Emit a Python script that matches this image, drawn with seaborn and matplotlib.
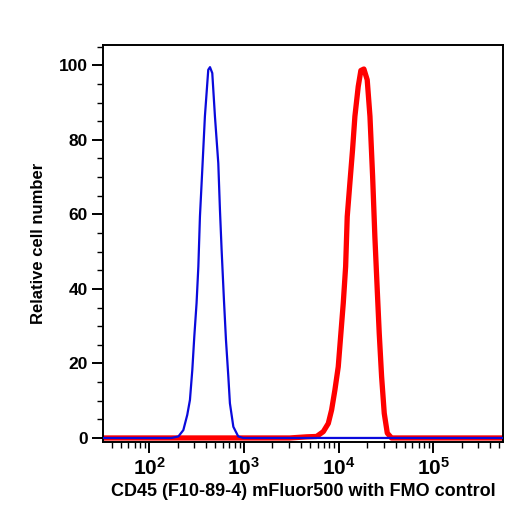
import numpy as np
import matplotlib
matplotlib.use("Agg")
import matplotlib.pyplot as plt
import matplotlib.ticker as mticker
import seaborn as sns

# FMO control (blue) histogram, intensity vs relative count
fmo_x = [30, 172, 203, 229, 252, 269, 285, 299, 316, 330, 343, 363, 387, 420, 438,
         463, 494, 536, 558, 581, 615, 646, 684, 711, 773, 871, 984, 550000]
fmo_y = [0, 0, 0.4, 2.1, 6.2, 10.2, 18.3, 27.2, 36.2, 46.0, 59.4, 71.9, 86.3, 98.8, 99.5,
         97.9, 86.3, 73.7, 61.2, 50.5, 37.0, 26.3, 16.5, 9.3, 3.0, 0.4, 0, 0]

# CD45 mFluor500 stained (red) histogram
cd45_x = [30, 3060, 4590, 5850, 6890, 7780, 8430, 9140, 9910, 10500, 11200, 11860, 12330,
          13150, 14030, 14860, 16110, 17180, 18490, 20040, 21430, 22860, 24150, 25590,
          26850, 28440, 30340, 32660, 36220, 550000]
cd45_y = [0, 0, 0.3, 0.4, 1.7, 3.9, 7.5, 12.9, 19.1, 27.2, 36.2, 46.0, 59.4,
          68.4, 77.3, 86.3, 94.3, 98.6, 99.0, 96.1, 86.3, 70.2, 54.0, 39.7,
          28.1, 16.5, 6.6, 1.3, 0, 0]

y_ticks = [0, 20, 40, 60, 80, 100]

sns.set_style("ticks")
plt.rcParams["font.family"] = ["Liberation Sans", "DejaVu Sans"]
plt.rcParams["font.weight"] = "bold"
plt.rcParams["text.color"] = "black"
plt.rcParams["axes.labelcolor"] = "black"
plt.rcParams["xtick.color"] = "black"
plt.rcParams["ytick.color"] = "black"

fig = plt.figure(figsize=(5.23, 5.13), dpi=100)
ax = fig.add_axes([0.1975, 0.139, 0.7643, 0.7737])

sns.lineplot(x=cd45_x, y=cd45_y, color="#ff0000", linewidth=3.8, estimator=None,
             sort=False, ax=ax, zorder=2)
sns.lineplot(x=fmo_x, y=fmo_y, color="#0a0adc", linewidth=1.6, estimator=None,
             sort=False, ax=ax, zorder=3)

ax.set_xscale("log")
ax.set_xlim(32.7, 545000)
ax.set_ylim(-1, 105.5)

ax.xaxis.set_major_locator(mticker.LogLocator(base=10, numticks=10))
ax.xaxis.set_minor_locator(mticker.LogLocator(base=10, subs=np.arange(2, 10), numticks=20))
ax.xaxis.set_minor_formatter(mticker.NullFormatter())
ax.set_yticks(y_ticks)
ax.yaxis.set_minor_locator(mticker.MultipleLocator(5))

ax.tick_params(axis="both", which="major", length=8, width=1.4, color="black",
               labelcolor="black")
ax.tick_params(axis="both", which="minor", length=4, width=1.0, color="black")
ax.tick_params(axis="x", which="major", labelsize=15, pad=3)
ax.tick_params(axis="y", which="major", labelsize=12.5, pad=3)

for sp in ax.spines.values():
    sp.set_visible(True)
    sp.set_linewidth(1.4)
    sp.set_color("black")

ax.set_xlabel("CD45 (F10-89-4) mFluor500 with FMO control", fontsize=13,
              fontweight="bold", labelpad=3)
ax.set_ylabel("Relative cell number", fontsize=12, fontweight="bold")
ax.yaxis.set_label_coords(-0.143, 0.5)

fig.savefig("out.png", dpi=100)
